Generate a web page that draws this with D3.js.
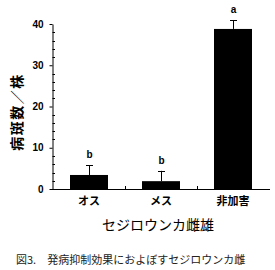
<!DOCTYPE html>
<html>
<head>
<meta charset="utf-8">
<script src="https://cdn.jsdelivr.net/npm/d3@7"></script>
<style>
  body { margin: 0; background: #fff; }
  svg { display: block; font-family: 'Noto Sans CJK JP', sans-serif; }
</style>
</head>
<body>
<div id="container"></div>
<script>
const w = 275
const h = 270

// data
const categories = ['オス', 'メス', '非加害']
const means = [3.4, 1.9, 38.8]
const errors = [2.4, 2.5, 2.1]
const letters = ['b', 'b', 'a']
const yTicks = [0, 10, 20, 30, 40]
const yMinor = d3.range(0, 41, 2)

const plotLeft = 52
const plotRight = 270
const plotTop = 24
const plotBottom = 189

var svg = d3.select('div#container')
  .append('svg')
  .attr('width', w)
  .attr('height', h)

var x = d3.scaleBand()
  .domain(categories)
  .range([plotLeft, plotRight])
  .paddingInner(0)
  .paddingOuter(0.02)

var y = d3.scaleLinear()
  .domain([0, 40])
  .range([plotBottom, plotTop])

const cx = d => Math.round(x(d) + x.bandwidth() / 2)

// bars
svg.append('g')
  .selectAll('rect')
  .data(categories)
  .enter().append('rect')
  .attr('x', d => cx(d) - 19)
  .attr('width', 38)
  .attr('y', (d, i) => y(means[i]))
  .attr('height', (d, i) => y(0) - y(means[i]))
  .attr('fill', '#000')

// error bars (upper only)
var err = svg.append('g')
  .attr('stroke', '#000')
  .attr('stroke-width', 1)
err.selectAll('line.v')
  .data(categories)
  .enter().append('line')
  .attr('class', 'v')
  .attr('x1', d => cx(d) + 0.5)
  .attr('x2', d => cx(d) + 0.5)
  .attr('y1', (d, i) => y(means[i]))
  .attr('y2', (d, i) => y(means[i] + errors[i]))
err.selectAll('line.c')
  .data(categories)
  .enter().append('line')
  .attr('class', 'c')
  .attr('x1', d => cx(d) - 3)
  .attr('x2', d => cx(d) + 4)
  .attr('y1', (d, i) => Math.round(y(means[i] + errors[i])) + 0.5)
  .attr('y2', (d, i) => Math.round(y(means[i] + errors[i])) + 0.5)

// significance letters
svg.append('g')
  .selectAll('text')
  .data(categories)
  .enter().append('text')
  .attr('x', d => cx(d) + 0.5)
  .attr('y', (d, i) => y(means[i] + errors[i]) - 7)
  .attr('text-anchor', 'middle')
  .style('font-size', '10px')
  .style('font-weight', 'bold')
  .style('font-family', 'Liberation Sans, Arial, sans-serif')
  .text((d, i) => letters[i])

// y axis
var yAxis = svg.append('g')
  .attr('transform', 'translate(' + (plotLeft + 0.5) + ',0)')
  .call(d3.axisLeft(y).tickValues(yTicks).tickSize(3).tickPadding(6).tickSizeOuter(0))
yAxis.select('.domain').attr('stroke', '#000')
yAxis.selectAll('text')
  .style('font-size', '10px')
  .style('font-weight', 'bold')
  .style('font-family', 'Liberation Sans, Arial, sans-serif')
  .attr('fill', '#000')

// minor ticks pointing inward
svg.append('g')
  .selectAll('line')
  .data(yMinor.filter(d => yTicks.indexOf(d) < 0))
  .enter().append('line')
  .attr('x1', plotLeft + 0.5)
  .attr('x2', plotLeft + 3)
  .attr('y1', d => Math.round(y(d)) + 0.5)
  .attr('y2', d => Math.round(y(d)) + 0.5)
  .attr('stroke', '#000')

// x axis
svg.append('line')
  .attr('x1', plotLeft)
  .attr('x2', plotRight)
  .attr('y1', plotBottom + 0.5)
  .attr('y2', plotBottom + 0.5)
  .attr('stroke', '#000')

svg.append('g')
  .selectAll('line')
  .data(categories.slice(1))
  .enter().append('line')
  .attr('x1', d => Math.round(x(d)) + 0.5)
  .attr('x2', d => Math.round(x(d)) + 0.5)
  .attr('y1', plotBottom)
  .attr('y2', plotBottom - 3)
  .attr('stroke', '#000')

svg.append('g')
  .selectAll('text')
  .data(categories)
  .enter().append('text')
  .attr('x', d => cx(d))
  .attr('y', plotBottom + 16)
  .attr('text-anchor', 'middle')
  .style('font-size', '11px')
  .style('font-weight', 'bold')
  .text(d => d)

// axis titles
svg.append('text')
  .attr('transform', 'translate(22,112) rotate(-90)')
  .attr('text-anchor', 'middle')
  .style('font-size', '14px')
  .style('font-weight', 'bold')
  .style('letter-spacing', '1.5px')
  .text('病斑数／株')

svg.append('text')
  .attr('x', 158)
  .attr('y', 230)
  .attr('text-anchor', 'middle')
  .style('font-size', '14px')
  .text('セジロウンカ雌雄')

svg.append('text')
  .attr('x', 16)
  .attr('y', 264)
  .style('font-size', '11px')
  .attr('fill', '#222')
  .text('図3.　発病抑制効果におよぼすセジロウンカ雌')
</script>
</body>
</html>
